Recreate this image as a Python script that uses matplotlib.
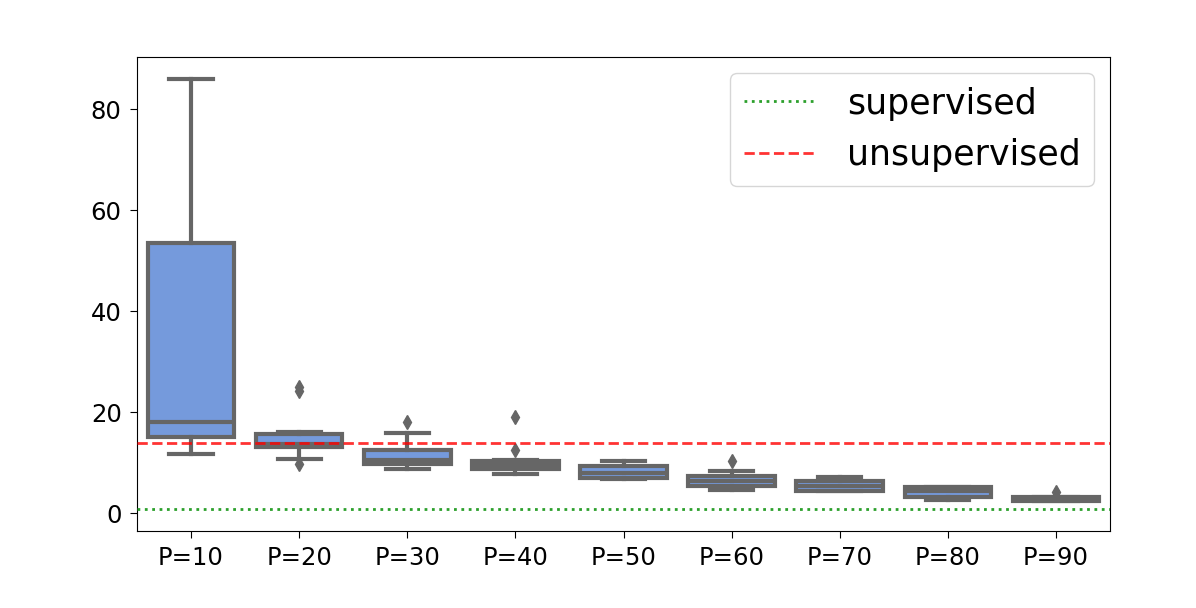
import matplotlib
matplotlib.use("Agg")
import matplotlib.pyplot as plt
import matplotlib.colors as mcolors
import colorsys

categories = ["P=10", "P=20", "P=30", "P=40", "P=50", "P=60", "P=70", "P=80", "P=90"]
whisker_low = [11.8, 10.7, 8.8, 7.8, 6.7, 4.7, 4.4, 2.6, 2.4]
q1 = [15.1, 13.2, 9.7, 8.7, 7.0, 5.5, 4.4, 3.3, 2.4]
median = [18.0, 13.8, 10.6, 9.6, 8.0, 6.3, 5.4, 4.4, 2.8]
q3 = [53.4, 15.7, 12.6, 10.3, 9.3, 7.3, 6.3, 5.2, 3.2]
whisker_high = [86.0, 16.1, 15.9, 10.5, 10.3, 8.3, 7.2, 5.2, 3.2]
outliers = [[], [24.3, 25.0, 9.8], [18.0], [19.0, 12.6], [], [10.3], [], [], [4.3]]

supervised = 0.9
unsupervised = 13.9

# seaborn-like desaturated cornflowerblue
r, g, b = mcolors.to_rgb("cornflowerblue")
h, l, s = colorsys.rgb_to_hls(r, g, b)
fill = colorsys.hls_to_rgb(h, l, s * 0.75)
gray = "#666666"

fig = plt.figure(figsize=(11.96, 6.08), dpi=100)
ax = fig.add_axes([137/1196, 1 - 530.5/608, (1110-137)/1196, (530.5-57)/608])

stats = []
for i, c in enumerate(categories):
    stats.append(dict(label=c, whislo=whisker_low[i], q1=q1[i], med=median[i],
                      q3=q3[i], whishi=whisker_high[i], fliers=outliers[i]))

lw = 3
ax.bxp(stats, positions=range(len(categories)), widths=0.8, patch_artist=True,
       showfliers=True,
       boxprops=dict(facecolor=fill, edgecolor=gray, linewidth=lw),
       medianprops=dict(color=gray, linewidth=lw),
       whiskerprops=dict(color=gray, linewidth=lw),
       capprops=dict(color=gray, linewidth=lw),
       flierprops=dict(marker="d", markerfacecolor=gray, markeredgecolor=gray,
                       markersize=7, linestyle="none"))

ax.axhline(supervised, color="tab:green", linestyle=":", linewidth=2, label="supervised", zorder=5)
ax.axhline(unsupervised, color="red", alpha=0.8, linestyle="--", linewidth=2, label="unsupervised", zorder=5)

ax.set_xlim(-0.5, len(categories) - 0.5)
ax.set_ylim(-3.4, 90.3)
ax.set_yticks([0, 20, 40, 60, 80])
ax.set_xticks(range(len(categories)))
ax.set_xticklabels(categories)
ax.tick_params(labelsize=17.5, length=5, pad=6)
ax.legend(loc="upper right", fontsize=25, handlelength=2.1, handletextpad=0.85,
          borderaxespad=0.45)

fig.savefig("out.png", dpi=100)
